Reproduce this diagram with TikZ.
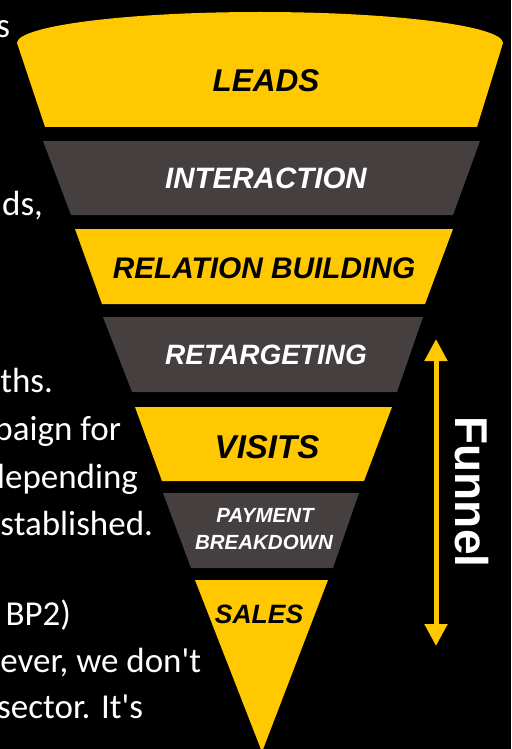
\documentclass[tikz,border=0pt]{standalone}
\usepackage{fontspec}
\setmainfont{Liberation Sans}
\newfontfamily\bodyfont{Carlito}
\usetikzlibrary{arrows.meta}
\definecolor{fy}{HTML}{FFC800}
\definecolor{fd}{HTML}{453F3F}
\tikzset{
  yband/.style={fill=fy},
  dband/.style={fill=fd},
  lab/.style={font=\bfseries\itshape\fontsize{#1}{#1}\selectfont, anchor=base, inner sep=0pt, outer sep=0pt},
  ylab/.style={lab=#1, text=black},
  dlab/.style={lab=#1, text=white},
  bodytext/.style={font=\bodyfont\fontsize{35}{42}\selectfont, text=white, anchor=base east, inner sep=0pt, outer sep=0pt},
  funarrow/.style={draw=fy, line width=5pt, {Triangle[length=22pt,width=22pt]}-{Triangle[length=22pt,width=22pt]}},
}
\begin{document}
\begin{tikzpicture}[x=1pt,y=-1pt]
\fill[black] (0,0) rectangle (511,749);
\useasboundingbox (0,0) rectangle (511,749);
\clip (0,0) rectangle (511,749);

% left body text (cut off at the left edge)
\node[bodytext] (t1) at (10,38) {s};
\node[bodytext] (t2) at (43,215) {ds,};
\node[bodytext] (t3) at (53,392) {ths.};
\node[bodytext] (t4) at (121,440) {paign for};
\node[bodytext] (t5) at (138,488) {depending};
\node[bodytext] (t6) at (153,535) {established.};
\node[bodytext] (t7) at (71,625) {BP2)};
\node[bodytext] (t8) at (201,672) {ever, we don't};
\node[bodytext] (t9) at (143,718) {sector. It's};

% funnel bands
\fill[yband] (17,43) .. controls (17,25.9) and (125.8,12) .. (260,12)
  .. controls (394.2,12) and (503,25.9) .. (503,43)
  -- (477,127) -- (45,127) -- cycle;
\fill[dband] (43,141) -- (480,141) -- (453,215) -- (71,215) -- cycle;
\fill[yband] (75,229) -- (453,229) -- (425,304) -- (102,304) -- cycle;
\fill[dband] (103,317) -- (423,317) -- (397,392) -- (132,392) -- cycle;
\fill[yband] (135,407) -- (392,407) -- (364,481) -- (162,481) -- cycle;
\fill[dband] (163,493) -- (359,493) -- (333,568) -- (191,568) -- cycle;
\fill[yband] (195,580) -- (328,580) -- (262,752) -- cycle;

% band labels
\node[ylab=31.5] (leads) at (266,92) {LEADS};
\node[dlab=29.5] (interaction) at (266,188) {INTERACTION};
\node[ylab=29.8] (relation) at (264,278) {RELATION BUILDING};
\node[dlab=28] (retargeting) at (266,364) {RETARGETING};
\node[ylab=33] (visits) at (267,458) {VISITS};
\node[dlab=20.5] (payment) at (265,522) {PAYMENT};
\node[dlab=20.5] (breakdown) at (264,549) {BREAKDOWN};
\node[ylab=26.5] (sales) at (259,623) {SALES};

% funnel arrow and label
\coordinate (atop) at (436,339);
\coordinate (abot) at (436,646);
\draw[funarrow] (atop) -- (abot);
\node[font=\bfseries\fontsize{46}{46}\selectfont, text=white, rotate=-90, inner sep=0pt] (funnel) at (472,492) {Funnel};
\end{tikzpicture}
\end{document}
